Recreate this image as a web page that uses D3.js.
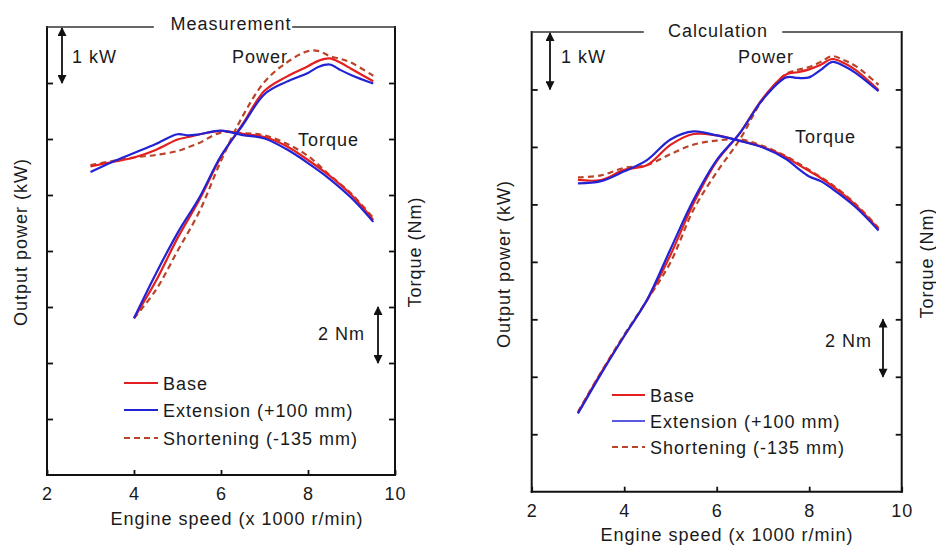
<!DOCTYPE html>
<html>
<head>
<meta charset="utf-8">
<script src="https://cdn.jsdelivr.net/npm/d3@7"></script>
<style>
  html, body { margin: 0; padding: 0; background: #fff; }
  svg { display: block; }
  text { font-family: "Liberation Sans", Arial, sans-serif; font-size: 18px; letter-spacing: 1px; fill: #1a1a1a; }
</style>
</head>
<body>
<svg id="chart" width="936" height="545"></svg>
<script>
// ---------------- DATA ----------------
const xTickValues = [2, 4, 6, 8, 10];
const seriesNames = ["Base", "Extension (+100 mm)", "Shortening (-135 mm)"];
const panelTitles = ["Measurement", "Calculation"];

// Measurement panel
const measRpmPower = [4, 4.5, 5, 5.5, 6, 6.5, 7, 7.5, 8, 8.25, 8.5, 8.75, 9, 9.5];
const measPowerBase  = [4.80, 5.46, 6.23, 6.91, 7.68, 8.27, 8.86, 9.11, 9.30, 9.40, 9.44, 9.36, 9.25, 9.03];
const measPowerExt   = [4.80, 5.59, 6.32, 6.95, 7.70, 8.25, 8.80, 9.02, 9.18, 9.29, 9.33, 9.23, 9.14, 8.99];
const measPowerShort = [4.80, 5.30, 6.00, 6.70, 7.61, 8.41, 9.02, 9.36, 9.57, 9.57, 9.48, 9.43, 9.36, 9.13];

const measRpmTorque = [3, 3.5, 4, 4.5, 5, 5.25, 5.5, 6, 6.5, 7, 7.5, 8, 8.5, 9, 9.5];
const measTorqueBase  = [11.02, 11.18, 11.34, 11.61, 11.98, 12.07, 12.16, 12.29, 12.18, 12.07, 11.75, 11.25, 10.68, 10.00, 9.11];
const measTorqueExt   = [10.82, 11.18, 11.50, 11.82, 12.17, 12.13, 12.17, 12.30, 12.14, 12.02, 11.64, 11.14, 10.57, 9.89, 9.04];
const measTorqueShort = [11.07, 11.21, 11.34, 11.43, 11.57, 11.71, 11.86, 12.23, 12.21, 12.13, 11.84, 11.39, 10.71, 10.04, 9.18];

// Calculation panel
const calcRpmPower = [3, 3.5, 4, 4.5, 5, 5.5, 6, 6.5, 7, 7.5, 7.75, 8, 8.25, 8.5, 8.75, 9, 9.5];
const calcPowerBase  = [3.37, 4.07, 4.71, 5.34, 6.12, 7.02, 7.75, 8.24, 8.85, 9.26, 9.30, 9.35, 9.43, 9.53, 9.46, 9.34, 8.99];
const calcPowerExt   = [3.36, 4.05, 4.71, 5.35, 6.22, 7.08, 7.77, 8.24, 8.83, 9.21, 9.20, 9.21, 9.34, 9.48, 9.41, 9.29, 8.97];
const calcPowerShort = [3.39, 4.08, 4.73, 5.34, 5.99, 6.91, 7.56, 8.13, 8.83, 9.27, 9.34, 9.39, 9.48, 9.58, 9.51, 9.41, 9.08];

const calcRpmTorque = [3, 3.5, 4, 4.5, 5, 5.5, 6, 6.5, 7, 7.5, 7.75, 8, 8.25, 8.5, 9, 9.5];
const calcTorqueBase  = [10.85, 10.85, 11.20, 11.37, 12.07, 12.45, 12.40, 12.22, 12.00, 11.65, 11.40, 11.16, 10.92, 10.64, 9.98, 9.14];
const calcTorqueExt   = [10.73, 10.81, 11.15, 11.55, 12.26, 12.54, 12.40, 12.21, 11.98, 11.58, 11.26, 10.97, 10.81, 10.54, 9.91, 9.09];
const calcTorqueShort = [10.94, 11.01, 11.27, 11.37, 11.75, 12.08, 12.22, 12.26, 12.03, 11.68, 11.44, 11.20, 10.95, 10.68, 10.02, 9.18];

// axis ranges (each tick step = 1 kW on the power axis, 2 Nm on the torque axis)
const xDomain = [2, 10];
const powerDomain = [2, 10];
const torqueDomain = [0, 16];

// ---------------- STYLE / LAYOUT ----------------
const colors = ["#e41f1f", "#2323d6", "#b8452a"];
const dashes = [null, null, "6,4"];
const widths = [2.2, 2.2, 2.2];

const svg = d3.select("#chart");

const defs = svg.append("defs");
defs.append("marker").attr("id", "ah").attr("viewBox", "0 0 10 10")
  .attr("refX", 9).attr("refY", 5).attr("markerWidth", 5.5).attr("markerHeight", 5)
  .attr("markerUnits", "strokeWidth").attr("orient", "auto-start-reverse")
  .append("path").attr("d", "M0,0 L10,5 L0,10 Z").attr("fill", "#111");

const panels = [
  {
    title: panelTitles[0], left: 47, right: 395, top: 27, bottom: 475,
    gap: [153, 293], titleX: 231, titleY: 29.5,
    rpmP: measRpmPower, power: [measPowerBase, measPowerExt, measPowerShort],
    rpmT: measRpmTorque, torque: [measTorqueBase, measTorqueExt, measTorqueShort],
    kw: {x: 62, tx: 72, ty: 63}, nm: {x: 378, tx: 365, ty: 340, v0: 4, v1: 6},
    power_lbl: {x: 232, y: 63}, torque_lbl: {x: 298, y: 146},
    leg: {x0: 124, x1: 158, tx: 163, y: [383, 410, 438]},
    xlab: {x: 237, y: 525}, tickPad: 12,
    ylabL: {x: 27, y: 242}, ylabR: {x: 421, y: 252}
  },
  {
    title: panelTitles[1], left: 531.7, right: 901.7, top: 32, bottom: 491.7,
    gap: [643, 783], titleX: 718, titleY: 36.5,
    rpmP: calcRpmPower, power: [calcPowerBase, calcPowerExt, calcPowerShort],
    rpmT: calcRpmTorque, torque: [calcTorqueBase, calcTorqueExt, calcTorqueShort],
    kw: {x: 550, tx: 561, ty: 63}, nm: {x: 883, tx: 872, ty: 347, v0: 4, v1: 6},
    power_lbl: {x: 738, y: 63}, torque_lbl: {x: 795, y: 143},
    leg: {x0: 612, x1: 645, tx: 650, y: [395, 421, 447]},
    xlab: {x: 727, y: 541}, tickPad: 12.5,
    ylabL: {x: 510, y: 264}, ylabR: {x: 933, y: 263}
  }
];

panels.forEach(p => {
  const g = svg.append("g");
  const x = d3.scaleLinear().domain(xDomain).range([p.left, p.right]);
  const yP = d3.scaleLinear().domain(powerDomain).range([p.bottom, p.top]);
  const yT = d3.scaleLinear().domain(torqueDomain).range([p.bottom, p.top]);

  const axL = g.append("g").attr("transform", `translate(${p.left},0)`)
    .call(d3.axisLeft(yP).tickValues(d3.range(powerDomain[0] + 1, powerDomain[1])).tickSize(-6).tickFormat(""));
  const axR = g.append("g").attr("transform", `translate(${p.right},0)`)
    .call(d3.axisRight(yT).tickValues(d3.range(torqueDomain[0] + 2, torqueDomain[1], 2)).tickSize(-6).tickFormat(""));
  const axB = g.append("g").attr("transform", `translate(0,${p.bottom})`)
    .call(d3.axisBottom(x).tickValues(xTickValues).tickSize(-5).tickPadding(p.tickPad).tickFormat(d3.format("d")));
  [axL, axR, axB].forEach(a => {
    a.select(".domain").remove();
    a.selectAll("line").attr("stroke", "#111").attr("stroke-width", 1.8);
  });
  axB.selectAll("text").attr("fill", "#1a1a1a");
  axB.attr("font-size", null).attr("font-family", null);

  const frame = [
    [p.left, p.top, p.left, p.bottom],
    [p.left, p.bottom, p.right, p.bottom],
    [p.right, p.bottom, p.right, p.top],
    [p.left, p.top, p.gap[0], p.top],
    [p.gap[1], p.top, p.right, p.top]
  ];
  g.selectAll(".frame").data(frame).join("line")
    .attr("x1", d => d[0]).attr("y1", d => d[1]).attr("x2", d => d[2]).attr("y2", d => d[3])
    .attr("stroke", (d, i) => i >= 3 ? "#333" : "#111")
    .attr("stroke-width", (d, i) => i >= 3 ? 1.6 : 2).attr("stroke-linecap", "square");

  g.append("text").attr("x", p.titleX).attr("y", p.titleY).attr("text-anchor", "middle").text(p.title);

  const makeLine = (yScale, rpm) => d3.line()
    .x((d, i) => x(rpm[i])).y(d => yScale(d)).curve(d3.curveCatmullRom.alpha(0.5));
  const drawOrder = [2, 0, 1];
  drawOrder.forEach(k => {
    g.append("path").attr("d", makeLine(yT, p.rpmT)(p.torque[k]))
      .attr("fill", "none").attr("stroke", colors[k]).attr("stroke-width", widths[k])
      .attr("stroke-dasharray", dashes[k]).attr("stroke-linejoin", "round");
    g.append("path").attr("d", makeLine(yP, p.rpmP)(p.power[k]))
      .attr("fill", "none").attr("stroke", colors[k]).attr("stroke-width", widths[k])
      .attr("stroke-dasharray", dashes[k]).attr("stroke-linejoin", "round");
  });

  g.append("text").attr("x", p.power_lbl.x).attr("y", p.power_lbl.y).text("Power");
  g.append("text").attr("x", p.torque_lbl.x).attr("y", p.torque_lbl.y).text("Torque");

  g.append("line").attr("x1", p.kw.x).attr("x2", p.kw.x)
    .attr("y1", yP(powerDomain[1]) + 1).attr("y2", yP(powerDomain[1] - 1))
    .attr("stroke", "#111").attr("stroke-width", 1.8)
    .attr("marker-start", "url(#ah)").attr("marker-end", "url(#ah)");
  g.append("text").attr("x", p.kw.tx).attr("y", p.kw.ty).text("1 kW");
  g.append("line").attr("x1", p.nm.x).attr("x2", p.nm.x)
    .attr("y1", yT(p.nm.v1)).attr("y2", yT(p.nm.v0))
    .attr("stroke", "#111").attr("stroke-width", 1.8)
    .attr("marker-start", "url(#ah)").attr("marker-end", "url(#ah)");
  g.append("text").attr("x", p.nm.tx).attr("y", p.nm.ty).attr("text-anchor", "end").text("2 Nm");

  seriesNames.forEach((name, k) => {
    const ly = p.leg.y[k];
    g.append("line").attr("x1", p.leg.x0).attr("x2", p.leg.x1).attr("y1", ly).attr("y2", ly)
      .attr("stroke", colors[k]).attr("stroke-width", (p.title === "Calculation" && k === 1) ? 1.3 : 2.2)
      .attr("stroke-dasharray", dashes[k]);
    g.append("text").attr("x", p.leg.tx).attr("y", ly + 7).text(name);
  });

  g.append("text").attr("x", p.xlab.x).attr("y", p.xlab.y).attr("text-anchor", "middle")
    .text("Engine speed (x 1000 r/min)");
  g.append("text").attr("transform", `translate(${p.ylabL.x},${p.ylabL.y}) rotate(-90)`)
    .attr("text-anchor", "middle").text("Output power (kW)");
  g.append("text").attr("transform", `translate(${p.ylabR.x},${p.ylabR.y}) rotate(-90)`)
    .attr("text-anchor", "middle").text("Torque (Nm)");
});
</script>
</body>
</html>
